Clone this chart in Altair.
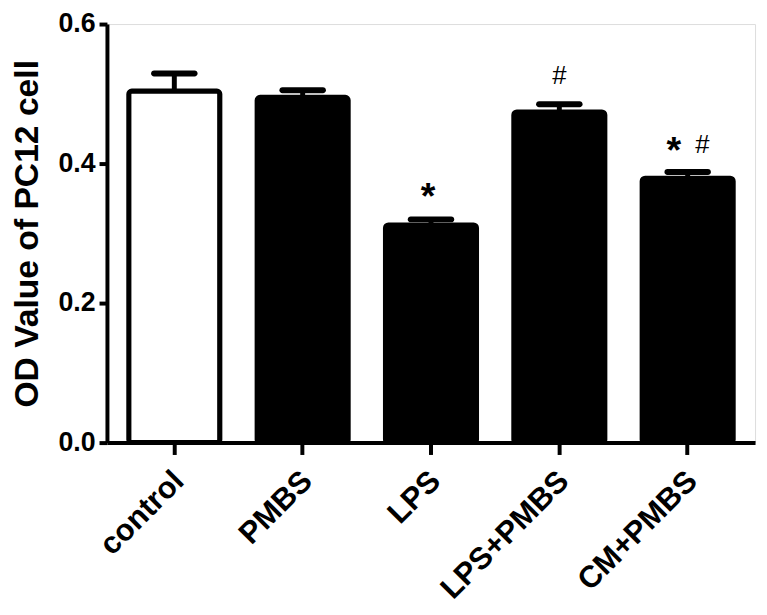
import altair as alt
import pandas as pd

groups = ["control", "PMBS", "LPS", "LPS+PMBS", "CM+PMBS"]
means = [0.504, 0.495, 0.312, 0.474, 0.379]
errors = [0.025, 0.010, 0.008, 0.011, 0.009]
fills = ["white", "black", "black", "black", "black"]

y_ticks = [0.0, 0.2, 0.4, 0.6]
y_title = "OD Value of PC12 cell"

annot_groups = ["LPS", "LPS+PMBS", "CM+PMBS", "CM+PMBS"]
annot_text = ["*", "#", "*", "#"]

df = pd.DataFrame({
    "group": groups,
    "mean": means,
    "err": errors,
    "fill": fills,
})
df["top"] = df["mean"] + df["err"]

FONT = "Liberation Sans"

xenc = alt.X(
    "group:N",
    sort=groups,
    scale=alt.Scale(paddingInner=0.29, paddingOuter=0.17),
    axis=alt.Axis(
        title=None,
        labelAngle=-45,
        labelAlign="right",
        labelBaseline="middle",
        labelFont=FONT,
        labelFontSize=31,
        labelFontWeight="bold",
        labelColor="black",
        labelPadding=22,
        labelOffset=5,
        tickSize=12,
        tickWidth=4,
        tickColor="black",
        domainWidth=4,
        domainColor="black",
        grid=False,
    ),
)

yscale = alt.Scale(domain=[0, 0.6], nice=False)
yaxis = alt.Axis(
    title=y_title,
    titleFont=FONT,
    titleFontSize=34,
    titleFontWeight="bold",
    titleColor="black",
    titlePadding=14,
    values=y_ticks,
    format=".1f",
    labelFont=FONT,
    labelFontSize=27,
    labelFontWeight="bold",
    labelColor="black",
    labelPadding=4,
    tickSize=8,
    tickWidth=4,
    tickColor="black",
    domainWidth=4,
    domainColor="black",
    grid=False,
)

base = alt.Chart(df).encode(x=xenc)

bars = base.mark_bar(stroke="black", strokeWidth=5, cornerRadius=3).encode(
    y=alt.Y("mean:Q", scale=yscale, axis=yaxis),
    fill=alt.Fill("fill:N", scale=None),
)

stems = base.mark_rule(color="black", strokeWidth=5).encode(
    y=alt.Y("mean:Q", scale=yscale),
    y2="top:Q",
)

caps = base.mark_tick(color="black", thickness=6, size=47, cornerRadius=3, opacity=1).encode(
    y=alt.Y("top:Q", scale=yscale),
)

adf = pd.DataFrame({"group": annot_groups, "text": annot_text})
adf = adf.merge(df[["group", "top"]], on="group", how="left")
adf["key"] = [0, 1, 2, 3]


def annot(i, dx, dy, size, weight):
    return alt.Chart(adf).transform_filter(alt.datum.key == i).mark_text(
        font=FONT, fontSize=size, fontWeight=weight, color="black",
        dx=dx, dy=dy, baseline="alphabetic", align="center",
    ).encode(
        x=alt.X("group:N", sort=groups),
        y=alt.Y("top:Q", scale=yscale),
        text="text:N",
    )


texts = [
    annot(0, -3, -10, 38, "bold"),
    annot(1, 0, -20, 26, "normal"),
    annot(2, -14, -9, 38, "bold"),
    annot(3, 15, -19, 26, "normal"),
]

chart = alt.layer(bars, stems, caps, *texts).properties(
    width=655,
    height=423,
    padding={"left": 100, "top": 13, "right": 4, "bottom": 170},
    autosize=alt.AutoSizeParams(type="none"),
).configure_view(strokeWidth=0).configure(background="white")

chart.save("out.html", embed_options={"renderer": "svg", "actions": False})
